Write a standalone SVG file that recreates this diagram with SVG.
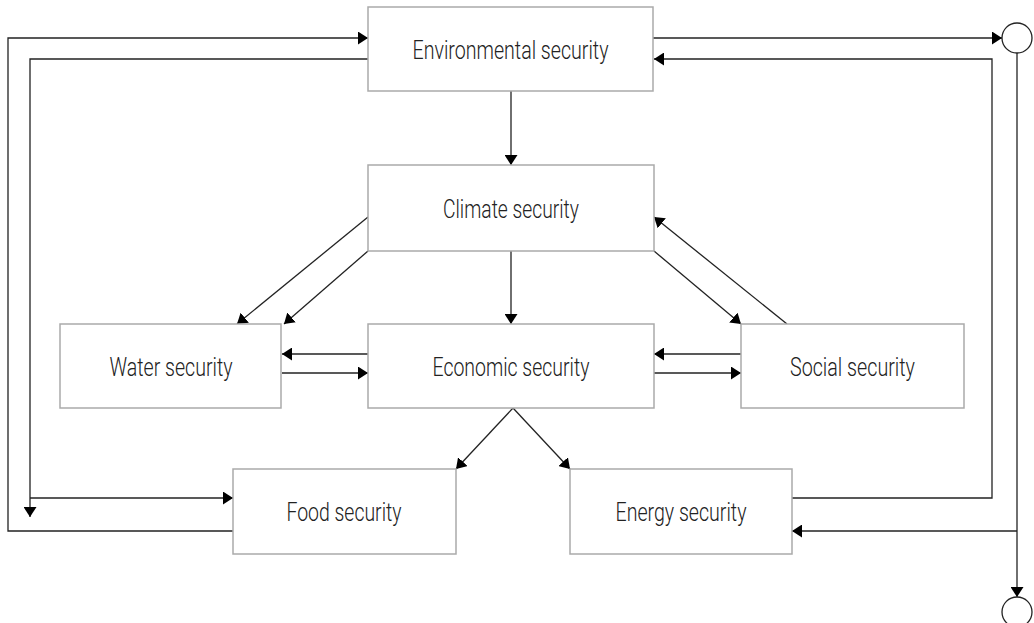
<svg xmlns="http://www.w3.org/2000/svg" width="1034" height="623" viewBox="0 0 1034 623">
<style>
.box{fill:#fff;stroke:#aaa;stroke-width:1.5}
.lbl{font-family:Roboto,"Liberation Sans",sans-serif;font-weight:300;font-size:25px;fill:#222;text-anchor:middle}
.c{fill:none;stroke:#222;stroke-width:1.3}
.end{fill:#fff;stroke:#222;stroke-width:1.3}
</style>
<defs>
<marker id="ah" viewBox="0 0 10 13" refX="10" refY="6.5" markerWidth="10" markerHeight="13" markerUnits="userSpaceOnUse" orient="auto">
<path d="M0,0 L10,6.5 L0,13 z" fill="#000"/>
</marker>
</defs>
<rect width="1034" height="623" fill="#fff"/>
<g id="connectors">
<path class="c" d="M511,91 V165" marker-end="url(#ah)"/>
<path class="c" d="M511,251 V324" marker-end="url(#ah)"/>
<path class="c" d="M368,217 L237,324" marker-end="url(#ah)"/>
<path class="c" d="M368,251 L284,324" marker-end="url(#ah)"/>
<path class="c" d="M368,354 H282" marker-end="url(#ah)"/>
<path class="c" d="M282,373 H368" marker-end="url(#ah)"/>
<path class="c" d="M741,354 H654" marker-end="url(#ah)"/>
<path class="c" d="M654,373 H741" marker-end="url(#ah)"/>
<path class="c" d="M654,251 L741,324" marker-end="url(#ah)"/>
<path class="c" d="M787,324 L654,217" marker-end="url(#ah)"/>
<path class="c" d="M513,408 L456,469" marker-end="url(#ah)"/>
<path class="c" d="M513,408 L570,469" marker-end="url(#ah)"/>
<path class="c" d="M233,531 H8 V38 H368" marker-end="url(#ah)"/>
<path class="c" d="M368,59 H30 V517" marker-end="url(#ah)"/>
<path class="c" d="M30,498 H233" marker-end="url(#ah)"/>
<path class="c" d="M792,498 H992 V59 H654" marker-end="url(#ah)"/>
<path class="c" d="M653,38 H1002" marker-end="url(#ah)"/>
<path class="c" d="M1017,53 V597" marker-end="url(#ah)"/>
<path class="c" d="M1017,531 H792" marker-end="url(#ah)"/>
<circle class="end" cx="1017" cy="38" r="15"/>
<circle class="end" cx="1017" cy="612" r="15"/>
</g>
<g id="environmental"><rect class="box" x="368" y="7" width="285" height="84"/><text class="lbl" x="510.5" y="59" textLength="196" lengthAdjust="spacingAndGlyphs">Environmental security</text></g>
<g id="climate"><rect class="box" x="368" y="165" width="286" height="86"/><text class="lbl" x="511" y="218" textLength="136" lengthAdjust="spacingAndGlyphs">Climate security</text></g>
<g id="water"><rect class="box" x="60" y="324" width="221" height="84"/><text class="lbl" x="171" y="376" textLength="123" lengthAdjust="spacingAndGlyphs">Water security</text></g>
<g id="economic"><rect class="box" x="368" y="324" width="286" height="84"/><text class="lbl" x="511" y="376" textLength="157" lengthAdjust="spacingAndGlyphs">Economic security</text></g>
<g id="social"><rect class="box" x="741" y="324" width="223" height="84"/><text class="lbl" x="852.5" y="376" textLength="125" lengthAdjust="spacingAndGlyphs">Social security</text></g>
<g id="food"><rect class="box" x="233" y="469" width="223" height="85"/><text class="lbl" x="344" y="521" textLength="115" lengthAdjust="spacingAndGlyphs">Food security</text></g>
<g id="energy"><rect class="box" x="570" y="469" width="222" height="85"/><text class="lbl" x="681" y="521" textLength="131" lengthAdjust="spacingAndGlyphs">Energy security</text></g>
</svg>
